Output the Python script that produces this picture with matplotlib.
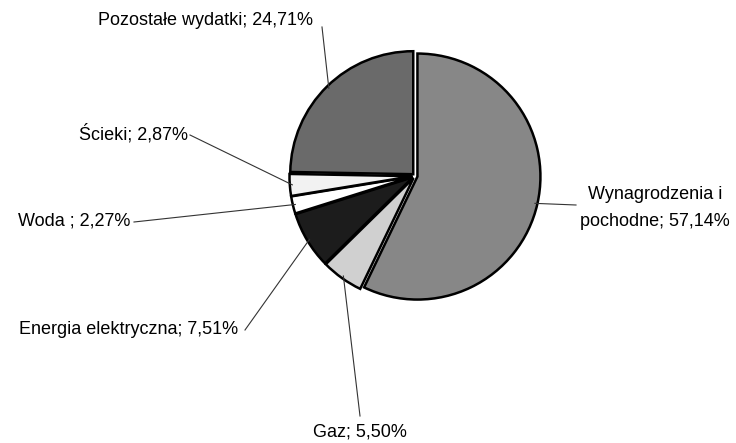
import numpy as np
import matplotlib
matplotlib.use("Agg")
import matplotlib.pyplot as plt

plt.rcParams['font.family'] = ['Liberation Sans', 'DejaVu Sans']

# dane
labels = ["Wynagrodzenia i\npochodne; 57,14%", "Gaz; 5,50%", "Energia elektryczna; 7,51%",
          "Woda ; 2,27%", "Ścieki; 2,87%", "Pozostałe wydatki; 24,71%"]
shares = [57.14, 5.50, 7.51, 2.27, 2.87, 24.71]
colors = ["#878787", "#d0d0d0", "#1c1c1c", "#ffffff", "#f2f2f2", "#6a6a6a"]

# label text anchor (px, y from top), alignment, leader start (px)
lab_pos = [(655, 208, 'center'), (360, 432, 'center'), (238, 329, 'right'),
           (130, 221, 'right'), (188, 134, 'right'), (313, 20, 'right')]
lead_start = [(576, 205), (360, 416), (245, 330), (134, 222), (190, 135), (322, 27)]

W, H = 736, 443
fig = plt.figure(figsize=(W / 100, H / 100), dpi=100)
ax = fig.add_axes([0, 0, 1, 1])

cx, cy, r = 415, H - 176, 123
wedges, _ = ax.pie(shares, colors=colors, startangle=90, counterclock=False,
                   center=(cx, cy), radius=r, explode=[2.5] * len(shares),
                   wedgeprops=dict(edgecolor='black', linewidth=1.8),
                   frame=True)
ax.set_xlim(0, W)
ax.set_ylim(0, H)
ax.set_aspect('equal')
ax.axis('off')

for w, lab, (tx, ty, ha), (sx, sy) in zip(wedges, labels, lab_pos, lead_start):
    ang = np.deg2rad((w.theta1 + w.theta2) / 2)
    px = cx + r * np.cos(ang)
    py = cy + r * np.sin(ang)
    ax.text(tx, H - ty, lab, ha=ha, va='center', fontsize=13,
            linespacing=1.75, multialignment='center')
    ax.plot([sx, px], [H - sy, py], color='#333333', lw=0.8)

fig.savefig("out.png", dpi=100)
